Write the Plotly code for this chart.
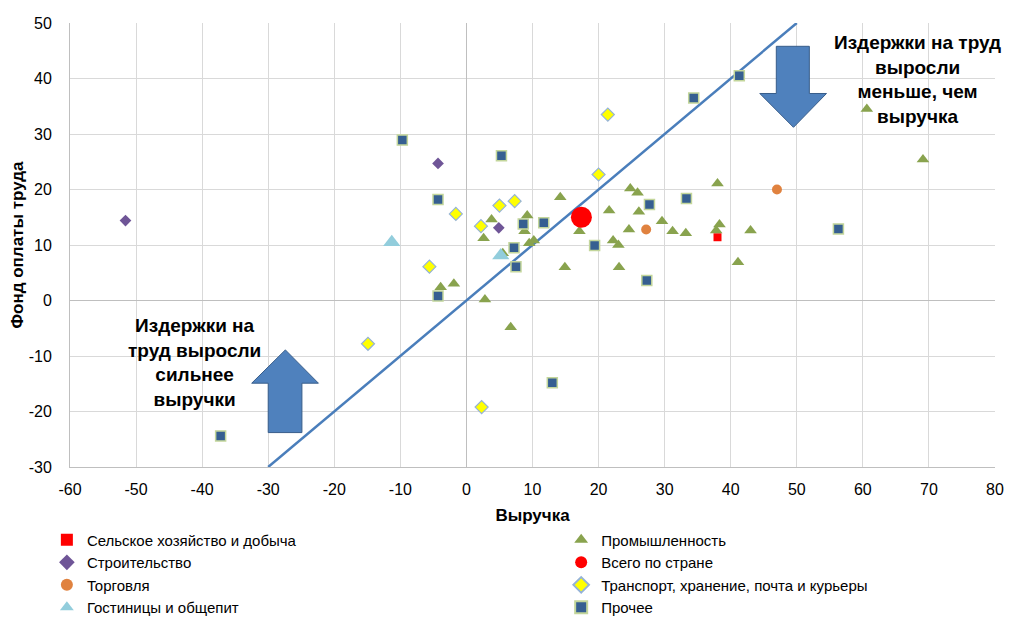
import plotly.graph_objects as go

# ---- data (Выручка, Фонд оплаты труда), % ----
agri_x = [38.0]
agri_y = [11.4]

constr_x = [-51.6, -4.3, 4.9]
constr_y = [14.4, 24.7, 13.1]

trade_x = [27.2, 47.0]
trade_y = [12.8, 20.0]

hotel_x = [-11.3, 5.2]
hotel_y = [10.5, 8.1]

ind_x = [14.2, 3.8, 9.2, 8.8, 9.5, 10.2, 2.6, 5.5, 14.9, -3.9, -1.9, 2.8, 6.7,
         24.8, 25.9, 38.0, 21.6, 26.1, 29.6, 24.6, 31.2, 33.2, 38.3, 37.8, 43.0,
         17.1, 22.2, 23.0, 23.1, 41.1, 60.6, 69.1]
ind_y = [18.6, 14.6, 15.3, 12.5, 10.3, 10.8, 11.2, 8.5, 6.0, 2.4, 3.0, 0.2, -4.8,
         20.2, 19.4, 21.1, 16.2, 16.0, 14.3, 12.8, 12.5, 12.1, 13.7, 12.6, 12.6,
         12.5, 10.8, 10.0, 6.0, 6.9, 34.5, 25.4]

total_x = [17.4]
total_y = [15.0]

trans_x = [21.4, 20.0, -1.6, 5.0, 7.3, 2.2, -5.6, -14.9, 2.3]
trans_y = [33.5, 22.7, 15.6, 17.1, 17.9, 13.4, 6.1, -7.8, -19.2]

other_x = [-37.2, -9.7, 5.3, 34.4, 41.3, -4.3, 8.6, 11.7, 7.2, 7.5, -4.3,
           27.7, 33.3, 19.4, 27.3, 13.0, 56.3]
other_y = [-24.4, 28.9, 26.1, 36.5, 40.5, 18.2, 13.8, 14.0, 9.5, 6.1, 0.8,
           17.3, 18.4, 9.9, 3.6, -14.8, 12.9]

diag = [-30, 50]  # line of equal growth (y = x)

x_ticks = list(range(-60, 81, 10))
y_ticks = list(range(-30, 51, 10))
x_labels = [str(v) for v in x_ticks]
y_labels = [str(v) for v in y_ticks]

FONT = "Liberation Sans, Arial, sans-serif"

fig = go.Figure()

fig.add_trace(go.Scatter(x=diag, y=diag, mode="lines", showlegend=False,
                         line=dict(color="#4A7EBB", width=2.5), hoverinfo="skip"))

def add(name, xs, ys, symbol, size, color, lcolor=None, lwidth=0, legend="legend", rank=1):
    fig.add_trace(go.Scatter(
        x=xs, y=ys, mode="markers", name=name, legend=legend, legendrank=rank,
        marker=dict(symbol=symbol, size=size, color=color,
                    line=dict(color=lcolor or color, width=lwidth))))

# drawing order (later = on top), legend placement via legend/legendrank
add("Сельское хозяйство и добыча", agri_x, agri_y, "square", 8, "#FF0000", legend="legend", rank=1)
add("Промышленность", ind_x, ind_y, "triangle-up", 11, "#89A34E", legend="legend2", rank=1)
add("Строительство", constr_x, constr_y, "diamond", 9, "#6F5597", legend="legend", rank=2)
add("Всего по стране", total_x, total_y, "circle", 21, "#FF0000", legend="legend2", rank=2)
add("Торговля", trade_x, trade_y, "circle", 10, "#E0823F", legend="legend", rank=3)
add("Транспорт, хранение, почта и курьеры", trans_x, trans_y, "diamond", 10, "#FFFF00",
    lcolor="#95B3D7", lwidth=1.2, legend="legend2", rank=3)
add("Гостиницы и общепит", hotel_x, hotel_y, "triangle-up", 15, "#92CDDC", legend="legend", rank=4)
add("Прочее", other_x, other_y, "square", 10, "#365F91",
    lcolor="#C3D69B", lwidth=1.5, legend="legend2", rank=4)

arrow_style = dict(type="path", xref="x", yref="y", fillcolor="#4F81BD",
                   line=dict(color="#385D8A", width=1), layer="above")
fig.add_shape(path="M 46.9,45.8 L 51.9,45.8 L 51.9,37.3 L 54.5,37.3 L 49.5,31.2 "
                   "L 44.4,37.3 L 46.9,37.3 Z", **arrow_style)
fig.add_shape(path="M -30.0,-23.8 L -24.9,-23.8 L -24.9,-14.9 L -22.4,-14.9 L -27.4,-8.9 "
                   "L -32.5,-14.9 L -30.0,-14.9 Z", **arrow_style)

ann_font = dict(family=FONT, size=19, color="#000000")
fig.add_annotation(x=68.2, y=39.9, xref="x", yref="y", showarrow=False, align="center",
                   text="<b>Издержки на труд<br>выросли<br>меньше, чем<br>выручка</b>",
                   font=ann_font)
fig.add_annotation(x=-41.1, y=-11.2, xref="x", yref="y", showarrow=False, align="center",
                   text="<b>Издержки на<br>труд выросли<br>сильнее<br>выручки</b>",
                   font=ann_font)

axis_common = dict(showgrid=True, gridcolor="#D9D9D9", gridwidth=1,
                   zeroline=True, zerolinecolor="#BFBFBF", zerolinewidth=1,
                   showline=True, linecolor="#BFBFBF", linewidth=1,
                   ticks="outside", tickcolor="rgba(0,0,0,0)",
                   tickfont=dict(family=FONT, size=16, color="#000000"))

fig.update_xaxes(range=[-60, 80], tickvals=x_ticks, ticktext=x_labels, ticklen=8, **axis_common,
                 title=dict(text="<b>Выручка</b>", font=dict(family=FONT, size=17, color="#000000"),
                            standoff=11))
fig.update_yaxes(range=[-30, 50], tickvals=y_ticks, ticktext=y_labels, ticklen=14, **axis_common,
                 title=dict(text="<b>Фонд оплаты труда</b>", font=dict(family=FONT, size=17, color="#000000"),
                            standoff=0))

legend_common = dict(orientation="v", yanchor="top", xanchor="left",
                     bgcolor="rgba(0,0,0,0)", itemsizing="constant",
                     font=dict(family=FONT, size=15, color="#000000"),
                     traceorder="normal")

fig.update_layout(
    width=1014, height=617,
    margin=dict(l=70, r=19, t=23, b=150, autoexpand=False),
    paper_bgcolor="white", plot_bgcolor="white",
    font=dict(family=FONT),
    legend=dict(x=-0.025, y=-0.1275, **legend_common),
    legend2=dict(x=0.531, y=-0.1275, **legend_common),
)

fig.write_html("out.html", config={"displayModeBar": False},
               post_script="document.body.style.margin='0px';")
